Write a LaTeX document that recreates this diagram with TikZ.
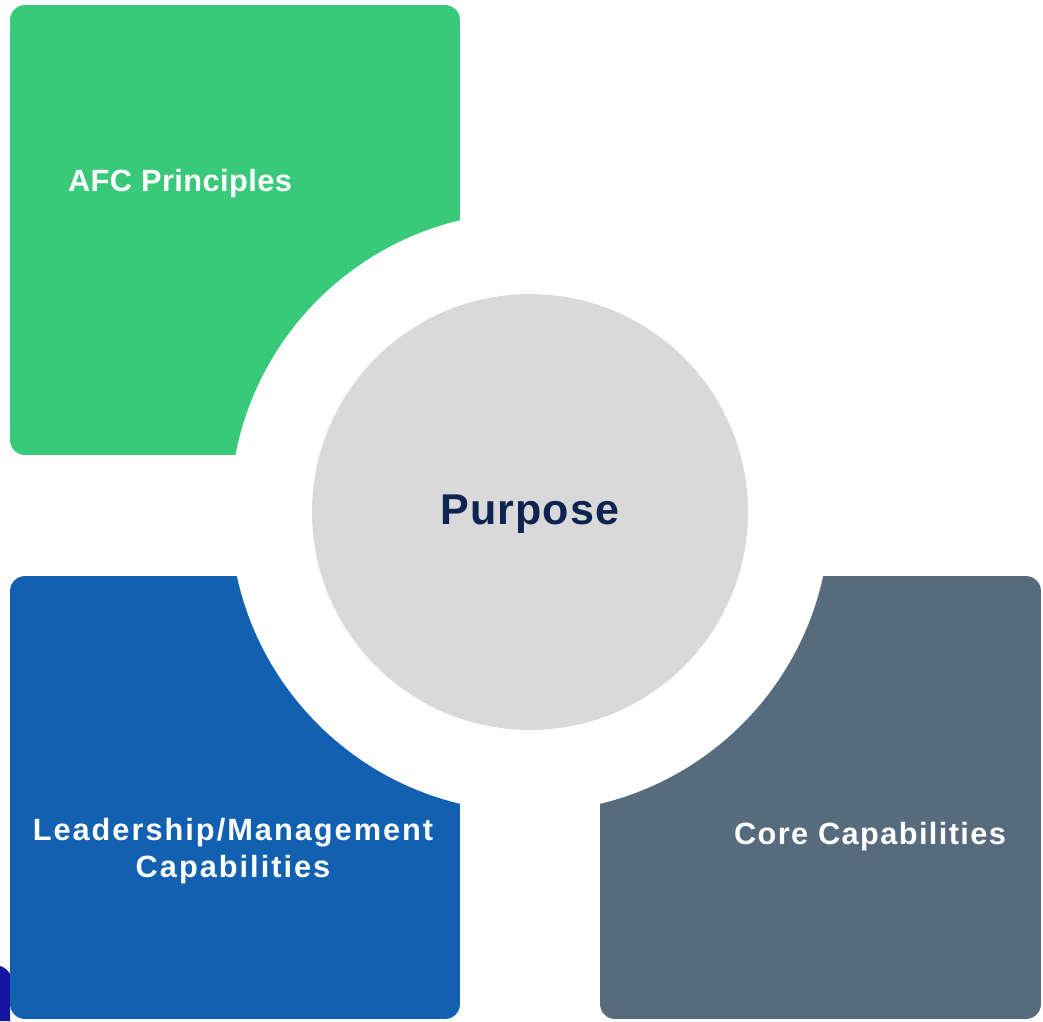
\documentclass[tikz,border=0pt]{standalone}
\usepackage{fontspec}
\setmainfont{Liberation Sans}
\usepackage{xcolor}
\usepackage{tikz}
\usetikzlibrary{positioning}
\definecolor{leaf}{HTML}{38C97A}
\definecolor{royal}{HTML}{1260B0}
\definecolor{slate}{HTML}{566B7D}
\definecolor{mist}{HTML}{D9D9D9}
\definecolor{navy}{HTML}{0D2350}
\definecolor{deepblue}{HTML}{1414A0}

\begin{document}
\begin{tikzpicture}[
    x=0.02cm, y=-0.02cm,
    quad/.style={rectangle, rounded corners=0.3cm, draw=none, inner sep=0pt},
    hole/.style={circle, fill=white, draw=none, minimum size=12cm, inner sep=0pt},
    core/.style={circle, fill=mist, draw=none, minimum size=8.72cm, inner sep=0pt},
    lbl/.style={text=white, align=center, inner sep=0pt,
                font=\fontsize{17.5}{20.4}\selectfont\bfseries}
  ]
  \useasboundingbox (0,0) rectangle (1043,1021);

  %%%%%%%%%%%%% Stray corner behind the blue block %%%%%%%%%%%%%
  \fill[deepblue] (0,966) .. controls (4,967) and (8,970) .. (10,974) -- (10,1021) -- (0,1021) -- cycle;

  %%%%%%%%%%%%% Quadrant blocks %%%%%%%%%%%%%
  \node[quad, fill=leaf, minimum width=9cm, minimum height=9cm] (afc) at (235,230) {};
  \node[quad, fill=royal, minimum width=9cm, minimum height=8.86cm] (lead) at (235,797.5) {};
  \node[quad, fill=slate, minimum width=8.82cm, minimum height=8.86cm] (capab) at (820.5,797.5) {};

  %%%%%%%%%%%%% Centre: white ring and purpose disc %%%%%%%%%%%%%
  \node[hole] (ring) at (530,512) {};
  \node[core] (purpose) at (ring.center) {};
  \node[text=navy, inner sep=0pt, font=\fontsize{24.5}{28}\selectfont\bfseries\addfontfeatures{LetterSpace=2.5}]
    (purposetxt) at (530,514) {Purpose};

  %%%%%%%%%%%%% Labels %%%%%%%%%%%%%
  \node[lbl, font=\fontsize{17.5}{20.4}\selectfont\bfseries\addfontfeatures{LetterSpace=1.4}]
    (afctxt) at (180,184) {AFC Principles};
  \node[lbl, font=\fontsize{17.5}{21}\selectfont\bfseries\addfontfeatures{LetterSpace=6.5}]
    (leadtxt) at (233,851) {Leadership/Management\\Capabilities};
  \node[lbl, font=\fontsize{17.5}{20.4}\selectfont\bfseries\addfontfeatures{LetterSpace=4.5}]
    (capabtxt) at (870,837) {Core Capabilities};

\end{tikzpicture}
\end{document}
